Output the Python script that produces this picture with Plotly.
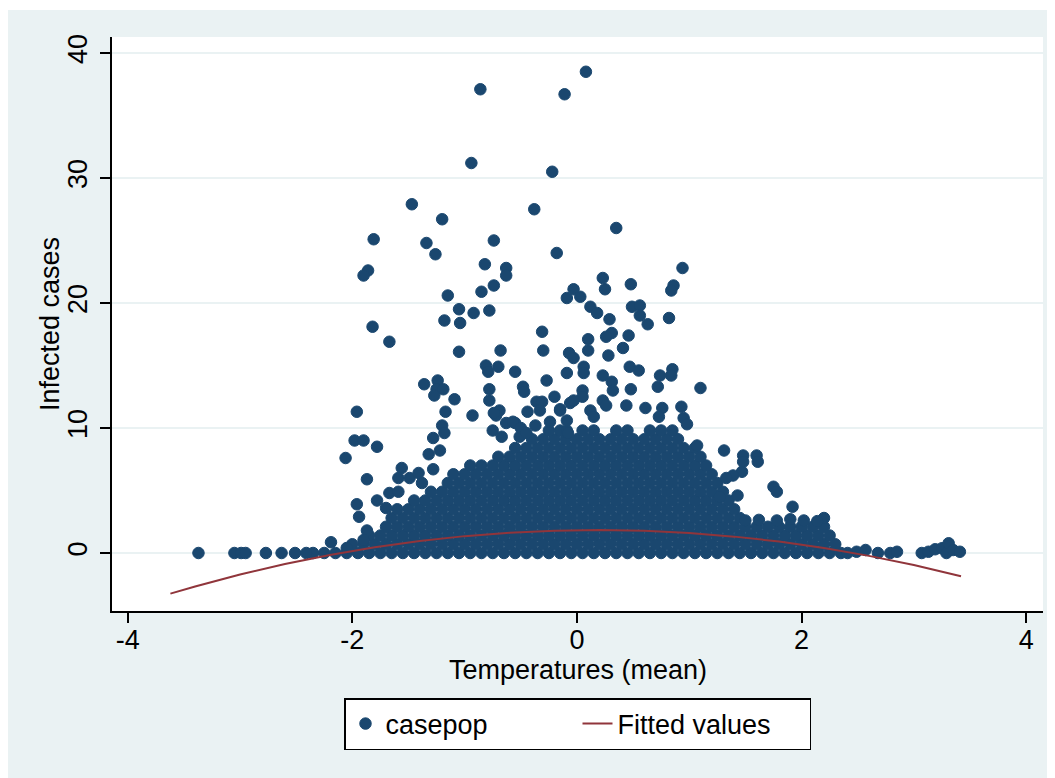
import plotly.graph_objects as go

# ---------------- data ----------------
# isolated / sparse observations (temperature mean, casepop)
sparse_x = [0.08, -0.86, -0.11, -0.94, -0.22, -0.38, 0.35, -1.47, -1.20, -1.81, -1.34, -1.26,
            -0.74, -0.82, -1.86, -1.90, -0.85, -0.74, -1.15, -1.05, -0.92, -0.78, -1.18, -1.04,
            -1.82, -0.63, -0.63, -0.18, 0.94, 0.86, 0.84, 0.48, 0.23, 0.25, -0.03, -0.09,
            0.03, 0.12, 0.18, 0.29, 0.49, 0.56, 0.56, 0.63, 0.82,
            -1.67, -1.05, -0.68, -0.31, -0.30, -0.81, -0.79, -0.70, -0.55, -1.36, -1.24, -1.25,
            -1.19, -1.27, -1.09, -0.78, -0.78, -0.48, -0.47, -0.27, -0.07, -0.03, 0.06, -0.09,
            0.10, 0.10, -0.20, 0.05, 0.05, -1.96, -1.17, -0.93, -0.36, -0.31, -0.44, -0.69,
            -0.72, -0.15, -0.06, -1.20, -1.18, -1.98, -1.90, -1.28, -0.75,
            -0.63, -0.55, -0.37, -0.24, -0.09, -0.74, -0.57, -0.51, -0.67, -0.33, -0.15, -0.09,
            -0.08, -0.50, -0.45,
            0.31, 0.26, 0.46, 0.41, 0.28, 0.06, 0.47, 0.55, 0.23, 0.74, 0.72, 0.85, 0.84, 1.10,
            0.31, 0.32, 0.48, -0.03, 0.23, 0.26, 0.44, 0.61, 0.76, 0.73, 0.93, 0.95, 0.98,
            0.12, 0.15,
            1.07, 1.31, 1.48, 1.48, 1.60, 1.61, 1.47, 1.39, 1.33, 1.75, 1.78, 1.43, 1.27, 1.92,
            2.20,
            -1.78, -2.06, -1.87, -1.78, -1.96, -1.94, -1.87, -1.67, -1.59, -1.56, -1.59, -1.49,
            -1.41, -1.38, -1.32, -1.22, -1.28, -2.19, -2.05, -1.90, -1.70,
            -3.37, -3.05, -2.99, -2.95, -2.77, -2.63, -2.51, -2.41,
            2.49, 2.57, 2.68, 2.79, 2.85, 3.07, 3.13, 3.19, 3.25, 3.29, 3.31, 3.35, 3.41,
            1.50, 1.62, 1.78, 1.90, 2.02, 2.14]
sparse_y = [38.5, 37.1, 36.7, 31.2, 30.5, 27.5, 26.0, 27.9, 26.7, 25.1, 24.8, 23.9,
            25.0, 23.1, 22.6, 22.2, 20.9, 21.4, 20.6, 19.5, 19.2, 19.4, 18.6, 18.4,
            18.1, 22.8, 22.2, 24.0, 22.8, 21.4, 21.0, 21.5, 22.0, 21.1, 21.1, 20.4,
            20.5, 19.7, 19.2, 18.7, 19.7, 19.8, 19.0, 18.3, 18.8,
            16.9, 16.1, 16.2, 17.7, 16.2, 15.0, 14.5, 14.9, 14.5, 13.5, 13.8, 13.1,
            13.1, 12.6, 12.3, 13.1, 12.2, 13.3, 12.9, 13.8, 16.0, 15.6, 14.9, 14.4,
            17.1, 16.2, 12.5, 13.0, 12.5, 11.3, 11.3, 11.0, 12.1, 12.1, 11.3, 11.4,
            11.0, 11.5, 12.0, 10.2, 9.6, 9.0, 9.0, 9.2, 9.8,
            10.4, 10.4, 10.2, 10.5, 9.8, 11.2, 10.5, 9.3, 9.3, 11.4, 11.4, 10.6,
            9.6, 10.0, 9.6,
            17.6, 17.3, 17.4, 16.4, 15.8, 14.4, 14.9, 14.6, 14.2, 14.2, 13.3, 14.7, 14.2, 13.2,
            13.7, 13.0, 13.1, 12.2, 12.2, 11.8, 11.8, 11.6, 11.6, 10.9, 11.7, 10.8, 10.3,
            11.4, 10.9,
            8.6, 8.2, 7.8, 7.3, 7.8, 7.3, 6.5, 6.2, 6.0, 5.3, 4.9, 4.6, 4.5, 3.7,
            2.8,
            8.5, 7.6, 5.9, 4.2, 3.9, 2.9, 1.8, 4.8, 4.9, 6.8, 6.0, 6.0,
            6.4, 5.6, 7.9, 8.2, 6.7, 0.86, 0.4, 1.04, 3.6,
            0.0, 0.0, 0.0, 0.0, 0.0, 0.0, 0.0, 0.0,
            0.1, 0.24, 0.0, 0.0, 0.1, 0.0, 0.1, 0.3, 0.38, 0.0, 0.78, 0.24, 0.1,
            2.6, 2.65, 2.6, 2.7, 2.6, 2.55]

# dense, overplotted band near zero: marks read row by row (casepop level, temperatures)
dense_row_y = [0.0, 0.7, 1.4, 2.1, 2.8, 3.5, 4.2, 4.9, 5.6, 6.3, 7.0, 7.7, 8.4, 9.1, 9.8]
dense_row_x = [
    [-2.35, -2.25, -2.15, -2.05, -1.95, -1.85, -1.75, -1.65, -1.55, -1.45, -1.35, -1.25, -1.15,
     -1.05, -0.95, -0.85, -0.75, -0.65, -0.55, -0.45, -0.35, -0.25, -0.15, -0.05, 0.05, 0.15,
     0.25, 0.35, 0.45, 0.55, 0.65, 0.75, 0.85, 0.95, 1.05, 1.15, 1.25, 1.35, 1.45, 1.55, 1.65,
     1.75, 1.85, 1.95, 2.05, 2.15, 2.25, 2.35, 2.41],
    [-2.0, -1.9, -1.8, -1.7, -1.6, -1.5, -1.4, -1.3, -1.2, -1.1, -1.0, -0.9, -0.8, -0.7, -0.6,
     -0.5, -0.4, -0.3, -0.2, -0.1, 0.0, 0.1, 0.2, 0.3, 0.4, 0.5, 0.6, 0.7, 0.8, 0.9, 1.0, 1.1,
     1.2, 1.3, 1.4, 1.5, 1.6, 1.7, 1.8, 1.9, 2.0, 2.1, 2.2, 2.3],
    [-1.85, -1.75, -1.65, -1.55, -1.45, -1.35, -1.25, -1.15, -1.05, -0.95, -0.85, -0.75, -0.65,
     -0.55, -0.45, -0.35, -0.25, -0.15, -0.05, 0.05, 0.15, 0.25, 0.35, 0.45, 0.55, 0.65, 0.75,
     0.85, 0.95, 1.05, 1.15, 1.25, 1.35, 1.45, 1.55, 1.65, 1.75, 1.85, 1.95, 2.05, 2.15, 2.25],
    [-1.7, -1.6, -1.5, -1.4, -1.3, -1.2, -1.1, -1.0, -0.9, -0.8, -0.7, -0.6, -0.5, -0.4, -0.3,
     -0.2, -0.1, 0.0, 0.1, 0.2, 0.3, 0.4, 0.5, 0.6, 0.7, 0.8, 0.9, 1.0, 1.1, 1.2, 1.3, 1.4, 1.5,
     1.6, 1.7, 1.8, 1.9, 2.0, 2.1, 2.2],
    [-1.65, -1.55, -1.45, -1.35, -1.25, -1.15, -1.05, -0.95, -0.85, -0.75, -0.65, -0.55, -0.45,
     -0.35, -0.25, -0.15, -0.05, 0.05, 0.15, 0.25, 0.35, 0.45, 0.55, 0.65, 0.75, 0.85, 0.95,
     1.05, 1.15, 1.25, 1.35, 1.45],
    [-1.6, -1.5, -1.4, -1.3, -1.2, -1.1, -1.0, -0.9, -0.8, -0.7, -0.6, -0.5, -0.4, -0.3, -0.2,
     -0.1, 0.0, 0.1, 0.2, 0.3, 0.4, 0.5, 0.6, 0.7, 0.8, 0.9, 1.0, 1.1, 1.2, 1.3, 1.4],
    [-1.45, -1.35, -1.25, -1.15, -1.05, -0.95, -0.85, -0.75, -0.65, -0.55, -0.45, -0.35, -0.25,
     -0.15, -0.05, 0.05, 0.15, 0.25, 0.35, 0.45, 0.55, 0.65, 0.75, 0.85, 0.95, 1.05, 1.15, 1.25,
     1.35],
    [-1.3, -1.2, -1.1, -1.0, -0.9, -0.8, -0.7, -0.6, -0.5, -0.4, -0.3, -0.2, -0.1, 0.0, 0.1,
     0.2, 0.3, 0.4, 0.5, 0.6, 0.7, 0.8, 0.9, 1.0, 1.1, 1.2, 1.3],
    [-1.15, -1.05, -0.95, -0.85, -0.75, -0.65, -0.55, -0.45, -0.35, -0.25, -0.15, -0.05, 0.05,
     0.15, 0.25, 0.35, 0.45, 0.55, 0.65, 0.75, 0.85, 0.95, 1.05, 1.15, 1.25],
    [-1.1, -1.0, -0.9, -0.8, -0.7, -0.6, -0.5, -0.4, -0.3, -0.2, -0.1, 0.0, 0.1, 0.2, 0.3, 0.4,
     0.5, 0.6, 0.7, 0.8, 0.9, 1.0, 1.1, 1.2],
    [-0.95, -0.85, -0.75, -0.65, -0.55, -0.45, -0.35, -0.25, -0.15, -0.05, 0.05, 0.15, 0.25,
     0.35, 0.45, 0.55, 0.65, 0.75, 0.85, 0.95, 1.05, 1.15],
    [-0.7, -0.6, -0.5, -0.4, -0.3, -0.2, -0.1, 0.0, 0.1, 0.2, 0.3, 0.4, 0.5, 0.6, 0.7, 0.8, 0.9,
     1.0, 1.1],
    [-0.55, -0.45, -0.35, -0.25, -0.15, -0.05, 0.05, 0.15, 0.25, 0.35, 0.45, 0.55, 0.65, 0.75,
     0.85, 0.95, 1.05],
    [-0.4, -0.3, -0.2, -0.1, 0.0, 0.1, 0.2, 0.3, 0.4, 0.5, 0.6, 0.7, 0.8, 0.9],
    [-0.25, -0.15, 0.05, 0.15, 0.35, 0.45, 0.65, 0.75, 0.85],
]

# fitted values (quadratic fit line)
fit_x = [-3.62, -3.4, -3.0, -2.6, -2.2, -1.8, -1.4, -1.0, -0.6, -0.2, 0.2, 0.6, 1.0, 1.4,
         1.8, 2.2, 2.6, 3.0, 3.42]
fit_y = [-3.25, -2.68, -1.72, -0.88, -0.16, 0.46, 0.96, 1.35, 1.63, 1.79, 1.84, 1.78, 1.60,
         1.31, 0.92, 0.40, -0.23, -0.96, -1.86]

x_tick_vals = [-4, -2, 0, 2, 4]
x_tick_text = ["-4", "-2", "0", "2", "4"]
y_tick_vals = [0, 10, 20, 30, 40]
y_tick_text = ["0", "10", "20", "30", "40"]

# ---------------- build ----------------
pts_x, pts_y = [], []
for yv, row in zip(dense_row_y, dense_row_x):
    for xv in row:
        pts_x.append(xv)
        pts_y.append(yv)
pts_x += sparse_x
pts_y += sparse_y

NAVY = "#1a476f"
MAROON = "#90353b"
BG = "#eaf2f3"
FONT = "Liberation Sans, Arial, sans-serif"
FS = 27

fig = go.Figure()
fig.add_trace(go.Scatter(
    x=pts_x, y=pts_y, mode="markers", name="casepop",
    marker=dict(color=NAVY, size=11.5, line=dict(color=NAVY, width=1)),
    hoverinfo="skip",
))
fig.add_trace(go.Scatter(
    x=fit_x, y=fit_y, mode="lines", name="Fitted values",
    line=dict(color=MAROON, width=2),
))

fig.update_layout(
    width=1047, height=770,
    margin=dict(l=104, r=12, t=29, b=167, pad=0, autoexpand=False),
    paper_bgcolor=BG, plot_bgcolor="white",
    font=dict(family=FONT, size=FS, color="black"),
    showlegend=True,
    legend=dict(orientation="h", x=0.5, xanchor="center", y=-0.1516, yanchor="top",
                bgcolor="white", bordercolor="black", borderwidth=1.5,
                font=dict(family=FONT, size=FS, color="black"),
                entrywidth=187, tracegroupgap=0),
    shapes=[
        dict(type="rect", xref="paper", yref="paper", x0=-0.2, x1=1.1, y0=1.047, y1=1.2,
             fillcolor="white", line=dict(width=0), layer="above"),
    ],
    annotations=[
        dict(text="Temperatures (mean)", xref="paper", yref="paper", x=0.5, y=-0.1030,
             xanchor="center", yanchor="middle", showarrow=False,
             font=dict(family=FONT, size=FS, color="black")),
        dict(text="Infected cases", xref="paper", yref="paper", x=-0.0666, y=0.5,
             xanchor="center", yanchor="middle", textangle=-90, showarrow=False,
             font=dict(family=FONT, size=FS, color="black")),
    ],
)
fig.update_xaxes(
    range=[-4.14, 4.15], tickvals=x_tick_vals, ticktext=x_tick_text,
    ticks="outside", ticklen=10, tickwidth=1.5, tickcolor="black",
    showline=True, linecolor="black", linewidth=2, showgrid=False, zeroline=False,
    tickfont=dict(family=FONT, size=FS, color="black"), ticklabelstandoff=-6,
    automargin=False,
)
fig.update_yaxes(
    range=[-4.64, 41.28], tickvals=y_tick_vals, ticktext=y_tick_text, tickangle=-90,
    ticks="outside", ticklen=10, tickwidth=1.5, tickcolor="black",
    showline=True, linecolor="black", linewidth=2,
    showgrid=True, gridcolor=BG, gridwidth=1.5, zeroline=False,
    tickfont=dict(family=FONT, size=FS, color="black"), ticklabelstandoff=2,
    automargin=False,
)

fig.write_html("out.html")
